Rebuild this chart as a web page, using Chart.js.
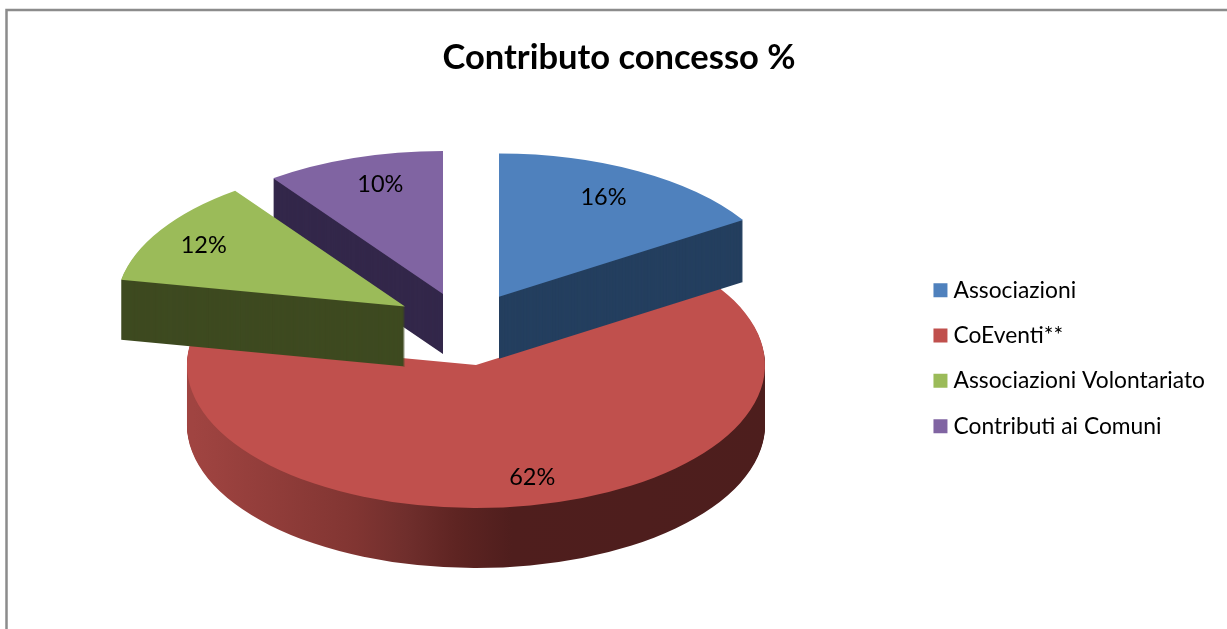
<!DOCTYPE html>
<html>
<head>
<meta charset="utf-8">
<style>
    html, body { margin: 0; padding: 0; background: #fff; overflow: hidden; }
    canvas { display: block; }
</style>
<script src="https://cdn.jsdelivr.net/npm/chart.js@4"></script>
</head>
<body>
<canvas id="myChart" width="1227" height="629"></canvas>
<script>
const categories = ['Associazioni', 'CoEventi**', 'Associazioni Volontariato', 'Contributi ai Comuni'];
const values = [16, 62, 12, 10];
const topColors = ['#4F81BD', '#C0504D', '#9BBB59', '#8064A2'];
const wallColors = ['#243F5F', null, '#3E4A20', '#33274A'];
const drawOrder = [1, 3, 0, 2];

// pie geometry on the page
const PIE_X = 465;
const PIE_Y = 327;
const RADIUS = 289;
const TILT = 0.495;
const DEPTHS = [62, 60, 60, 60];
const EXPLODE = 70;
const LABEL_RADIUS = 230;
const SLICE_SHIFT = [[0, 0], [-2, 4], [-1, -2], [0, 0]];
const LABEL_SHIFT = [[-6, 1], [11, 5], [-8, -2], [8, -1]];

function redWall(ctx) {
    const g = ctx.createLinearGradient(187, 0, 766, 0);
    g.addColorStop(0, '#A04441');
    g.addColorStop(0.28, '#813532');
    g.addColorStop(0.37, '#6F2E2C');
    g.addColorStop(0.455, '#5E2422');
    g.addColorStop(0.55, '#4F1E1D');
    g.addColorStop(1, '#4D1E1D');
    return g;
}

// moves one slice out along its middle angle and squashes it to an ellipse
function project(ctx, arc, i, drop) {
    const mid = (arc.startAngle + arc.endAngle) / 2;
    const x = PIE_X + Math.cos(mid) * EXPLODE + SLICE_SHIFT[i][0];
    const y = PIE_Y + Math.sin(mid) * EXPLODE * TILT + SLICE_SHIFT[i][1];
    ctx.translate(Math.round(x), y + drop);
    ctx.scale(1, TILT);
    ctx.translate(-arc.x, -arc.y);
}

const pie3d = {
    id: 'pie3d',
    beforeDraw(chart) {
        const ctx = chart.ctx;
        ctx.save();
        ctx.strokeStyle = '#8C8C8C';
        ctx.lineWidth = 2.5;
        ctx.beginPath();
        ctx.moveTo(6.5, 629);
        ctx.lineTo(6.5, 10);
        ctx.lineTo(1227, 10);
        ctx.stroke();
        ctx.restore();
    },
    beforeDatasetDraw(chart, args) {
        const ctx = chart.ctx;
        const arcs = args.meta.data;
        for (const i of drawOrder) {
            const arc = arcs[i];
            const wall = Object.create(arc);
            wall.options = { ...arc.options, backgroundColor: wallColors[i] || redWall(ctx) };
            for (let d = DEPTHS[i]; d > 0; d--) {
                ctx.save();
                project(ctx, arc, i, d);
                wall.draw(ctx);
                ctx.restore();
            }
            ctx.save();
            project(ctx, arc, i, 0);
            arc.draw(ctx);
            ctx.restore();
        }
        // percent labels
        ctx.save();
        ctx.fillStyle = '#000';
        ctx.font = '23.5px Lato';
        ctx.textAlign = 'center';
        ctx.textBaseline = 'middle';
        arcs.forEach((arc, i) => {
            const mid = (arc.startAngle + arc.endAngle) / 2;
            const r = EXPLODE + LABEL_RADIUS;
            const x = PIE_X + Math.cos(mid) * r + LABEL_SHIFT[i][0];
            const y = PIE_Y + Math.sin(mid) * r * TILT + LABEL_SHIFT[i][1];
            ctx.fillText(values[i] + '%', x, y);
        });
        ctx.restore();
        return false;
    }
};

new Chart(document.getElementById('myChart'), {
    type: 'pie',
    data: {
        labels: categories,
        datasets: [{
            data: values,
            backgroundColor: topColors,
            borderWidth: 0,
            radius: RADIUS,
            clip: false
        }]
    },
    options: {
        responsive: false,
        animation: false,
        layout: { padding: { left: 23, top: 0, right: 12, bottom: 0 } },
        plugins: {
            title: {
                display: true,
                text: 'Contributo concesso %',
                color: '#000',
                font: { family: 'Lato', size: 34.5, weight: 'bold' },
                fullSize: true,
                padding: { top: 37, bottom: 9 }
            },
            legend: {
                position: 'right',
                fullSize: false,
                labels: {
                    color: '#000',
                    font: { family: 'Lato', size: 22.8 },
                    boxWidth: 3.2,
                    boxHeight: 3.2,
                    padding: 22.5,
                    generateLabels: chart => Chart.overrides.pie.plugins.legend.labels.generateLabels(chart)
                        .map(item => ({ ...item, strokeStyle: item.fillStyle, lineWidth: 10.8 }))
                }
            },
            tooltip: { enabled: false }
        }
    },
    plugins: [pie3d]
});
</script>
</body>
</html>
